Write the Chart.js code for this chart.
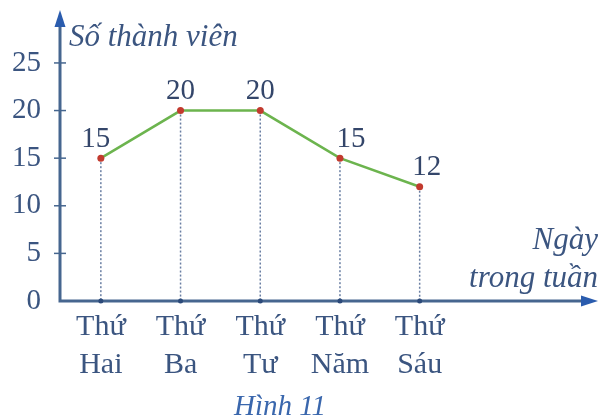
<!DOCTYPE html>
<html>
<head>
<meta charset="utf-8">
<script src="https://cdn.jsdelivr.net/npm/chart.js@4/dist/chart.umd.min.js"></script>
<style>
  html, body { margin: 0; padding: 0; background: #fff; }
  #wrap { width: 602px; height: 420px; position: relative; }
</style>
</head>
<body>
<div id="wrap"><canvas id="c"></canvas></div>
<script>
// Dữ liệu
const days = ['Thứ Hai', 'Thứ Ba', 'Thứ Tư', 'Thứ Năm', 'Thứ Sáu'];
const members = [15, 20, 20, 15, 12];
const yTicks = [0, 5, 10, 15, 20, 25];

const axisColor = '#46668f';
const arrowColor = '#2a5cae';
const textColor = '#3b5580';
const serif = '"Liberation Serif", "DejaVu Serif", serif';

// vẽ trục, mũi tên, đường chấm và nhãn
const decor = {
    id: 'decor',
    beforeDatasetsDraw(chart) {
        const ctx = chart.ctx;
        const x = chart.scales.x, y = chart.scales.y;
        ctx.save();
        ctx.strokeStyle = '#6a7fa3';
        ctx.lineWidth = 1.5;
        ctx.setLineDash([2, 2]);
        members.forEach((v, i) => {
            const px = x.getPixelForValue(i + 1);
            ctx.beginPath();
            ctx.moveTo(px, y.getPixelForValue(v));
            ctx.lineTo(px, y.getPixelForValue(0));
            ctx.stroke();
        });
        ctx.restore();
    },
    afterDraw(chart) {
        const ctx = chart.ctx;
        const area = chart.chartArea;
        const x = chart.scales.x, y = chart.scales.y;
        const x0 = area.left, y0 = y.getPixelForValue(0);
        ctx.save();
        ctx.strokeStyle = axisColor;
        ctx.lineWidth = 3;
        ctx.beginPath();
        ctx.moveTo(x0, area.top + 12);
        ctx.lineTo(x0, y0);
        ctx.lineTo(area.right - 12, y0);
        ctx.stroke();

        // mũi tên
        ctx.fillStyle = arrowColor;
        ctx.beginPath();
        ctx.moveTo(x0, area.top);
        ctx.lineTo(x0 - 5.5, area.top + 17);
        ctx.lineTo(x0 + 5.5, area.top + 17);
        ctx.closePath();
        ctx.fill();
        ctx.beginPath();
        ctx.moveTo(area.right, y0);
        ctx.lineTo(area.right - 17, y0 - 5.5);
        ctx.lineTo(area.right - 17, y0 + 5.5);
        ctx.closePath();
        ctx.fill();

        // vạch chia trục tung
        ctx.strokeStyle = axisColor;
        ctx.lineWidth = 1.5;
        yTicks.slice(1).forEach(t => {
            const py = y.getPixelForValue(t);
            ctx.beginPath();
            ctx.moveTo(x0 - 6, py);
            ctx.lineTo(x0 + 6, py);
            ctx.stroke();
        });
        // chấm trên trục hoành
        ctx.fillStyle = '#2c4a7a';
        days.forEach((d, i) => {
            ctx.beginPath();
            ctx.arc(x.getPixelForValue(i + 1), y0, 2.5, 0, Math.PI * 2);
            ctx.fill();
        });

        // nhãn giá trị
        const shift = [-5, 0, 0, 11, 7];
        ctx.fillStyle = '#34466a';
        ctx.font = '29px ' + serif;
        ctx.textAlign = 'center';
        ctx.textBaseline = 'middle';
        members.forEach((v, i) => {
            const px = x.getPixelForValue(i + 1);
            const py = y.getPixelForValue(v);
            ctx.fillText(String(v), px + shift[i], py - 19);
        });

        // tên trục
        ctx.fillStyle = textColor;
        ctx.font = 'italic 31px ' + serif;
        ctx.textAlign = 'left';
        ctx.fillText('Số thành viên', x0 + 9, 38);
        ctx.textAlign = 'right';
        ctx.fillText('Ngày', 598, 241);
        ctx.fillText('trong tuần', 598, 279);

        ctx.fillStyle = '#3a67ad';
        ctx.font = 'italic 29px ' + serif;
        ctx.textAlign = 'center';
        ctx.fillText('Hình 11', 280, 407);
        ctx.restore();
    }
};

new Chart(document.getElementById('c'), {
    type: 'line',
    data: {
        datasets: [{
            data: members.map((v, i) => ({ x: i + 1, y: v })),
            borderColor: '#6cb44e',
            borderWidth: 2.5,
            pointRadius: 3.5,
            pointBackgroundColor: '#c23a2e',
            pointBorderWidth: 0,
            tension: 0
        }]
    },
    options: {
        responsive: true,
        maintainAspectRatio: false,
        animation: false,
        layout: { padding: { top: 10, right: 2, left: 0, bottom: 0 } },
        plugins: {
            legend: { display: false },
            tooltip: { enabled: false }
        },
        scales: {
            x: {
                type: 'linear',
                min: 0.4875,
                max: 7.2375,
                grid: { display: false, drawTicks: false },
                border: { display: false },
                afterBuildTicks: s => { s.ticks = days.map((d, i) => ({ value: i + 1 })); },
                afterFit: s => { s.height = 119; s.paddingLeft = 0; s.paddingRight = 0; },
                ticks: {
                    autoSkip: false,
                    maxRotation: 0,
                    padding: 7,
                    color: textColor,
                    font: { family: serif, size: 30, lineHeight: 1.27 },
                    callback: v => days[v - 1] ? days[v - 1].split(' ') : ''
                }
            },
            y: {
                min: 0,
                max: 30.56,
                grid: { display: false, drawTicks: false },
                border: { display: false },
                afterBuildTicks: s => { s.ticks = yTicks.map(v => ({ value: v })); },
                afterFit: s => { s.width = 60; s.paddingTop = 0; s.paddingBottom = 0; },
                ticks: {
                    padding: 19,
                    color: textColor,
                    font: { family: serif, size: 29 }
                }
            }
        }
    },
    plugins: [decor]
});
</script>
</body>
</html>
